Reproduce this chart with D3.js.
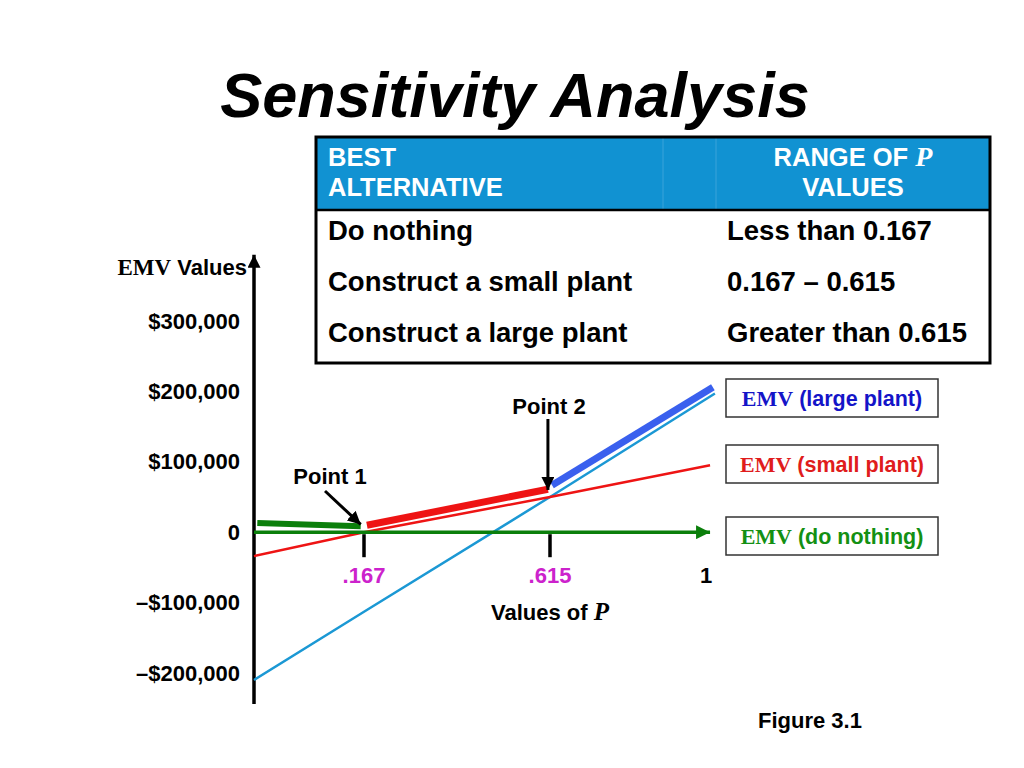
<!DOCTYPE html>
<html>
<head>
<meta charset="utf-8">
<script src="https://cdn.jsdelivr.net/npm/d3@7"></script>
<style>
  body { margin: 0; background: #fff; }
  text { font-family: "Liberation Sans", Arial, sans-serif; font-weight: bold; }
  .serif { font-family: "Liberation Serif", "Times New Roman", serif; }
</style>
</head>
<body>
<svg id="mysvg"></svg>
<script>
const w = 1024, h = 768;

// data
const pBreaks = [0, 0.167, 0.615, 1];
const yTickValues = [300000, 200000, 100000, 0, -100000, -200000];
const xTickValues = [0.167, 0.615, 1];
const xTickLabels = [".167", ".615", "1"];

const largePlant = [[0, -210000], [0.167, -113000], [0.615, 50000], [1.022, 197000]];
const smallPlant = [[0, -34000], [0.167, 0], [0.615, 50000], [1.01, 95000]];
const doNothing = [[0, 0], [1.01, 0]];

// thick segments showing the best alternative in each range
const bestDoNothing = [[0.005, 13000], [0.162, 8500]];
const bestSmall = [[0.174, 9900], [0.610, 61000]];
const bestLarge = [[0.620, 66800], [1.017, 206000]];

const tableRows = [
    ["Do nothing", "Less than 0.167"],
    ["Construct a small plant", "0.167 \u2013 0.615"],
    ["Construct a large plant", "Greater than 0.615"]
];

const legendItems = [
    { label: "(large plant)", color: "#1414c8", y: 379 },
    { label: "(small plant)", color: "#e01c1c", y: 445 },
    { label: "(do nothing)", color: "#139013", y: 517 }
];

const svg = d3.select("#mysvg")
    .attr("width", w)
    .attr("height", h);

const defs = svg.append("defs");
function marker(id, color, size) {
    defs.append("marker")
        .attr("id", id)
        .attr("viewBox", "0 0 10 10")
        .attr("refX", 10).attr("refY", 5)
        .attr("markerUnits", "userSpaceOnUse")
        .attr("markerWidth", size).attr("markerHeight", size)
        .attr("orient", "auto")
        .append("path")
        .attr("d", "M0,0 L10,5 L0,10 Z")
        .attr("fill", color);
}
marker("arrowBlack", "#000", 13);
marker("arrowGreen", "#0b7f0b", 14);

// Title
svg.append("text")
    .attr("x", 515).attr("y", 117)
    .attr("text-anchor", "middle")
    .attr("font-size", 63)
    .attr("font-style", "italic")
    .text("Sensitivity Analysis");

// scales (breaks follow the uneven spacing of the figure)
const xScale = d3.scaleLinear()
    .domain(pBreaks)
    .range([254, 364, 550, 706]);

const yScale = d3.scaleLinear()
    .domain([-200000, 300000])
    .range([673, 321]);

const line = d3.line()
    .x(d => xScale(d[0]))
    .y(d => yScale(d[1]));

// Y axis line with arrow
svg.append("line")
    .attr("x1", xScale(0)).attr("x2", xScale(0))
    .attr("y1", yScale(-244000)).attr("y2", yScale(394000))
    .attr("stroke", "#000")
    .attr("stroke-width", 3.5)
    .attr("marker-end", "url(#arrowBlack)");

const fmt = v => v === 0 ? "0" : (v < 0 ? "\u2013$" : "$") + d3.format(",")(Math.abs(v));

svg.append("g")
    .attr("transform", "translate(" + (xScale(0) - 11) + ",0)")
    .call(d3.axisLeft(yScale).tickValues(yTickValues).tickSize(0).tickFormat(fmt))
    .call(g => g.select(".domain").remove())
    .selectAll("text")
    .attr("font-size", 22)
    .attr("font-family", "Liberation Sans, Arial, sans-serif")
    .attr("font-weight", "bold")
    .attr("fill", "#000");

const yLab = svg.append("text")
    .attr("x", 247).attr("y", 275)
    .attr("text-anchor", "end")
    .attr("font-size", 22);
yLab.append("tspan").attr("class", "serif").attr("font-size", 23).text("EMV");
yLab.append("tspan").text(" Values");

// lines
svg.append("path").datum(largePlant)
    .attr("fill", "none").attr("stroke", "#1b98d4").attr("stroke-width", 2.5)
    .attr("d", line);

svg.append("path").datum(smallPlant)
    .attr("fill", "none").attr("stroke", "#ee1414").attr("stroke-width", 2.5)
    .attr("d", line);

svg.append("path").datum(doNothing)
    .attr("fill", "none").attr("stroke", "#0b7f0b").attr("stroke-width", 3.5)
    .attr("marker-end", "url(#arrowGreen)")
    .attr("d", line);

svg.append("path").datum(bestDoNothing)
    .attr("fill", "none").attr("stroke", "#0b7f0b").attr("stroke-width", 6)
    .attr("d", line);
svg.append("path").datum(bestSmall)
    .attr("fill", "none").attr("stroke", "#ee1414").attr("stroke-width", 7)
    .attr("d", line);
svg.append("path").datum(bestLarge)
    .attr("fill", "none").attr("stroke", "#3a60ee").attr("stroke-width", 7)
    .attr("d", line);

// X ticks
const y0 = yScale(0);
svg.selectAll(".xtick")
    .data(xTickValues.slice(0, 2))
    .enter().append("line")
    .attr("class", "xtick")
    .attr("x1", d => xScale(d)).attr("x2", d => xScale(d))
    .attr("y1", y0 + 2).attr("y2", y0 + 25)
    .attr("stroke", "#000").attr("stroke-width", 3.5);

svg.selectAll(".xlabel")
    .data(xTickValues)
    .enter().append("text")
    .attr("class", "xlabel")
    .attr("x", d => xScale(d))
    .attr("y", y0 + 51)
    .attr("text-anchor", "middle")
    .attr("font-size", 22)
    .attr("fill", (d, i) => i < 2 ? "#cc22cc" : "#000")
    .text((d, i) => xTickLabels[i]);

const xLab = svg.append("text")
    .attr("x", xScale(0.615)).attr("y", 620)
    .attr("text-anchor", "middle")
    .attr("font-size", 22);
xLab.append("tspan").text("Values of ");
xLab.append("tspan").attr("class", "serif").attr("font-style", "italic").attr("font-size", 25).text("P");

// Point annotations
svg.append("text").attr("x", 330).attr("y", 484)
    .attr("text-anchor", "middle").attr("font-size", 22).text("Point 1");
svg.append("line")
    .attr("x1", 325).attr("y1", 491)
    .attr("x2", xScale(0.162)).attr("y2", yScale(11000))
    .attr("stroke", "#000").attr("stroke-width", 3)
    .attr("marker-end", "url(#arrowBlack)");

svg.append("text").attr("x", 549).attr("y", 414)
    .attr("text-anchor", "middle").attr("font-size", 22).text("Point 2");
svg.append("line")
    .attr("x1", xScale(0.61)).attr("y1", 419)
    .attr("x2", xScale(0.61)).attr("y2", yScale(60000))
    .attr("stroke", "#000").attr("stroke-width", 3)
    .attr("marker-end", "url(#arrowBlack)");

// Legend boxes
const lg = svg.selectAll(".legend")
    .data(legendItems)
    .enter().append("g")
    .attr("class", "legend")
    .attr("transform", d => "translate(726," + d.y + ")");
lg.append("rect")
    .attr("width", 212).attr("height", 38)
    .attr("fill", "#fff").attr("stroke", "#333").attr("stroke-width", 1.5);
const lt = lg.append("text")
    .attr("x", 106).attr("y", 27)
    .attr("text-anchor", "middle")
    .attr("font-size", 21.5)
    .attr("fill", d => d.color);
lt.append("tspan").attr("class", "serif").attr("font-size", 22).text("EMV");
lt.append("tspan").text(d => " " + d.label);

// Table
const tx = 316, ty = 137, tw = 674, th = 226, hh = 73;
svg.append("rect")
    .attr("x", tx).attr("y", ty).attr("width", tw).attr("height", hh)
    .attr("fill", "#1192d2");
svg.append("line").attr("x1", 663).attr("x2", 663).attr("y1", ty).attr("y2", ty + hh)
    .attr("stroke", "#3aa3da").attr("stroke-width", 1);
svg.append("line").attr("x1", 716).attr("x2", 716).attr("y1", ty).attr("y2", ty + hh)
    .attr("stroke", "#3aa3da").attr("stroke-width", 1);
svg.append("line").attr("x1", tx).attr("x2", tx + tw).attr("y1", ty + hh).attr("y2", ty + hh)
    .attr("stroke", "#000").attr("stroke-width", 2.5);
svg.append("rect")
    .attr("x", tx).attr("y", ty).attr("width", tw).attr("height", th)
    .attr("fill", "none").attr("stroke", "#000").attr("stroke-width", 3);

svg.append("text").attr("x", 328).attr("y", 166).attr("font-size", 25.5)
    .attr("fill", "#fff").text("BEST");
svg.append("text").attr("x", 328).attr("y", 196).attr("font-size", 25.5)
    .attr("fill", "#fff").text("ALTERNATIVE");
const rh = svg.append("text").attr("x", 853).attr("y", 166).attr("font-size", 25.5)
    .attr("text-anchor", "middle").attr("fill", "#fff");
rh.append("tspan").text("RANGE OF ");
rh.append("tspan").attr("class", "serif").attr("font-style", "italic").attr("font-size", 28).text("P");
svg.append("text").attr("x", 853).attr("y", 196).attr("font-size", 25.5)
    .attr("text-anchor", "middle").attr("fill", "#fff").text("VALUES");

const rows = svg.selectAll(".row")
    .data(tableRows)
    .enter().append("g")
    .attr("class", "row")
    .attr("transform", (d, i) => "translate(0," + (240 + i * 51) + ")");
rows.append("text").attr("x", 328).attr("font-size", 27.5).text(d => d[0]);
rows.append("text").attr("x", 727).attr("font-size", 27.5).text(d => d[1]);

// Figure caption
svg.append("text").attr("x", 810).attr("y", 728)
    .attr("text-anchor", "middle").attr("font-size", 22).text("Figure 3.1");
</script>
</body>
</html>
